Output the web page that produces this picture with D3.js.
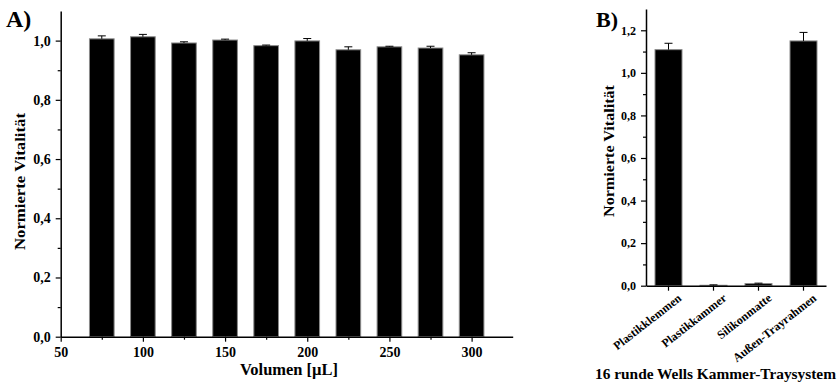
<!DOCTYPE html>
<html>
<head>
<meta charset="utf-8">
<script src="https://cdn.jsdelivr.net/npm/d3@7"></script>
<style>
  body { margin: 0; background: #fff; }
  svg { display: block; }
  text { font-family: "Liberation Serif", "Times New Roman", serif; font-weight: bold; fill: #000; }
</style>
</head>
<body>
<svg id="chart" width="839" height="385"></svg>
<script>
// panel A: volume series
const volumes = [75, 100, 125, 150, 175, 200, 225, 250, 275, 300];
const vitalityA = [1.006, 1.013, 0.992, 1.002, 0.983, 0.999, 0.969, 0.979, 0.975, 0.952];
const errorA = [0.010, 0.008, 0.004, 0.003, 0.002, 0.008, 0.010, 0.002, 0.006, 0.007];
const xTicksA = [50, 100, 150, 200, 250, 300];

// panel B: tray system components
const partsB = ['Plastikklemmen', 'Plastikkammer', 'Silikonmatte', 'Außen-Trayrahmen'];
const vitalityB = [1.109, 0.002, 0.010, 1.150];
const errorB = [0.030, 0.002, 0.002, 0.040];

const fmt = d3.format('.1f');
const comma = (d) => fmt(d).replace('.', ',');

const svg = d3.select('#chart');

function drawErr(g, x, y, data, errs, cap) {
  g.append('g')
      .attr('stroke', '#000')
      .attr('stroke-width', 1)
      .selectAll('g')
      .data(data)
      .join('g')
      .call((s) => s.append('line')
          .attr('x1', (d) => x(d.k)).attr('x2', (d) => x(d.k))
          .attr('y1', (d) => y(d.v)).attr('y2', (d, i) => y(d.v + errs[i])))
      .call((s) => s.append('line')
          .attr('x1', (d) => x(d.k) - cap).attr('x2', (d) => x(d.k) + cap)
          .attr('y1', (d, i) => y(d.v + errs[i])).attr('y2', (d, i) => y(d.v + errs[i])));
}

// ---------- panel A ----------
{
  const left = 60.7; const right = 512.7; const top = 11; const bottom = 336.7;
  const x = d3.scaleLinear().domain([50, 325]).range([left, right]);
  const y = d3.scaleLinear().domain([0, 1.1]).range([bottom, top]);
  const barW = x(65) - x(50);
  const g = svg.append('g');
  const data = volumes.map((k, i) => ({k, v: vitalityA[i]}));

  g.append('g').selectAll('rect')
      .data(data)
      .join('rect')
      .attr('x', (d) => x(d.k) - barW / 2)
      .attr('width', barW)
      .attr('y', (d) => y(d.v))
      .attr('height', (d) => y(0) - y(d.v))
      .attr('fill', '#000')
      .attr('stroke', '#8a8a8a')
      .attr('stroke-width', 1);

  drawErr(g, x, y, data, errorA, 4);

  // minor ticks
  g.append('g').attr('transform', `translate(0,${bottom})`)
      .call(d3.axisBottom(x).tickValues(d3.range(75, 325, 50)).tickSize(3).tickFormat(''))
      .call((a) => a.select('.domain').remove());
  g.append('g').attr('transform', `translate(${left},0)`)
      .call(d3.axisLeft(y).tickValues(d3.range(0.1, 1.1, 0.2)).tickSize(3).tickFormat(''))
      .call((a) => a.select('.domain').remove());

  const xa = g.append('g').attr('transform', `translate(0,${bottom})`)
      .call(d3.axisBottom(x).tickValues(xTicksA).tickSize(5).tickSizeOuter(0).tickPadding(5));
  xa.selectAll('text').attr('font-size', 14);
  const ya = g.append('g').attr('transform', `translate(${left},0)`)
      .call(d3.axisLeft(y).tickValues(d3.range(0, 1.01, 0.2)).tickSize(5).tickSizeOuter(0)
          .tickPadding(5).tickFormat(comma));
  ya.selectAll('text').attr('font-size', 14);
  g.selectAll('.domain').attr('stroke-width', 1.5);
  g.selectAll('.tick line').attr('stroke-width', 1.2);

  g.append('text').attr('x', 289).attr('y', 375)
      .attr('text-anchor', 'middle').attr('font-size', 16)
      .attr('textLength', 98).attr('lengthAdjust', 'spacingAndGlyphs')
      .text('Volumen [µL]');
  g.append('text').attr('transform', 'translate(25,181.5) rotate(-90)')
      .attr('text-anchor', 'middle').attr('font-size', 15)
      .attr('textLength', 137).attr('lengthAdjust', 'spacingAndGlyphs')
      .text('Normierte Vitalität');
  g.append('text').attr('x', 6).attr('y', 27).attr('font-size', 24).text('A)');
}

// ---------- panel B ----------
{
  const left = 646; const right = 826; const top = 9; const bottom = 285.7;
  const x = d3.scaleBand().domain(partsB).range([left, right]).padding(0);
  const y = d3.scaleLinear().domain([0, 1.3]).range([bottom, top]);
  const barW = x.bandwidth() * 0.6;
  const xc = (k) => x(k) + x.bandwidth() / 2;
  const g = svg.append('g');
  const data = partsB.map((k, i) => ({k, v: vitalityB[i]}));

  g.append('g').selectAll('rect')
      .data(data)
      .join('rect')
      .attr('x', (d) => xc(d.k) - barW / 2)
      .attr('width', barW)
      .attr('y', (d) => y(d.v))
      .attr('height', (d) => y(0) - y(d.v))
      .attr('fill', '#000')
      .attr('stroke', '#8a8a8a')
      .attr('stroke-width', 1);

  drawErr(g, xc, y, data, errorB, 4);

  g.append('g').attr('transform', `translate(${left},0)`)
      .call(d3.axisLeft(y).tickValues(d3.range(0.1, 1.3, 0.2)).tickSize(3).tickFormat(''))
      .call((a) => a.select('.domain').remove());

  const xa = g.append('g').attr('transform', `translate(0,${bottom})`)
      .call(d3.axisBottom(x).tickSize(5).tickSizeOuter(0).tickPadding(2));
  xa.selectAll('text')
      .attr('font-size', 12)
      .attr('text-anchor', 'end')
      .attr('dy', '0.35em')
      .attr('transform', 'translate(7,5) rotate(-38)');
  const ya = g.append('g').attr('transform', `translate(${left},0)`)
      .call(d3.axisLeft(y).tickValues(d3.range(0, 1.21, 0.2)).tickSize(5).tickSizeOuter(0)
          .tickPadding(5).tickFormat(comma));
  ya.selectAll('text').attr('font-size', 12);
  g.selectAll('.domain').attr('stroke-width', 1.5);
  g.selectAll('.tick line').attr('stroke-width', 1.2);

  g.append('text').attr('x', 715.5).attr('y', 379)
      .attr('text-anchor', 'middle').attr('font-size', 15)
      .attr('textLength', 241).attr('lengthAdjust', 'spacingAndGlyphs')
      .text('16 runde Wells Kammer-Traysystem');
  g.append('text').attr('transform', 'translate(614,151) rotate(-90)')
      .attr('text-anchor', 'middle').attr('font-size', 14)
      .attr('textLength', 132).attr('lengthAdjust', 'spacingAndGlyphs')
      .text('Normierte Vitalität');
  g.append('text').attr('x', 596).attr('y', 27).attr('font-size', 22).text('B)');
}
</script>
</body>
</html>
